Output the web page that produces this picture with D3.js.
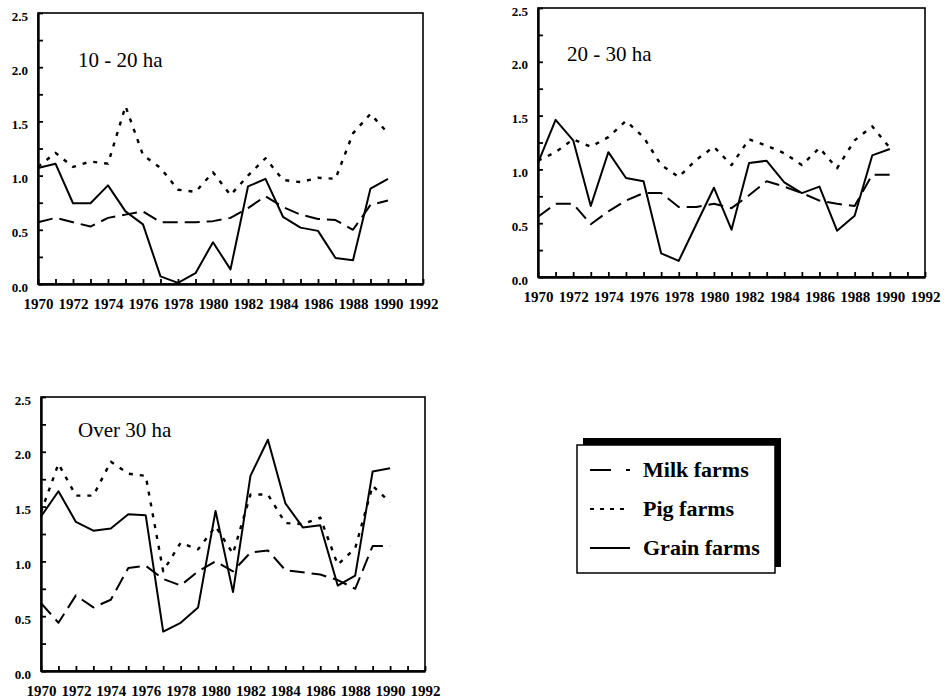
<!DOCTYPE html>
<html>
<head>
<meta charset="utf-8">
<script src="https://cdn.jsdelivr.net/npm/d3@7"></script>
<style>
  html, body { margin: 0; padding: 0; background: #fff; }
  svg { display: block; }
</style>
</head>
<body>
<svg id="chart" width="949" height="699"></svg>
<script>
// ---------------- DATA ----------------
const years = [1970,1971,1972,1973,1974,1975,1976,1977,1978,1979,1980,1981,1982,1983,1984,1985,1986,1987,1988,1989,1990];

// 10 - 20 ha
const milk1020  = [0.57,0.61,0.57,0.53,0.61,0.64,0.67,0.57,0.57,0.57,0.58,0.61,0.70,0.81,0.71,0.64,0.60,0.59,0.50,0.73,0.77];
const pig1020   = [1.08,1.21,1.08,1.13,1.11,1.64,1.19,1.07,0.87,0.85,1.03,0.82,1.00,1.16,0.96,0.94,0.98,0.97,1.39,1.57,1.39];
const grain1020 = [1.07,1.11,0.745,0.745,0.91,0.67,0.55,0.07,0.01,0.10,0.385,0.135,0.90,0.97,0.62,0.52,0.49,0.24,0.22,0.88,0.97];

// 20 - 30 ha
const milk2030  = [0.56,0.68,0.68,0.49,0.61,0.71,0.78,0.78,0.65,0.65,0.68,0.64,0.76,0.89,0.84,0.78,0.71,0.68,0.66,0.95,0.95];
const pig2030   = [1.08,1.16,1.28,1.21,1.30,1.45,1.30,1.04,0.93,1.09,1.21,1.04,1.28,1.22,1.15,1.04,1.20,1.01,1.27,1.40,1.20];
const grain2030 = [1.06,1.46,1.27,0.66,1.16,0.92,0.89,0.22,0.15,0.49,0.83,0.44,1.06,1.08,0.88,0.78,0.84,0.43,0.57,1.13,1.19];

// Over 30 ha
const milkOver30  = [0.62,0.44,0.69,0.58,0.65,0.94,0.96,0.84,0.78,0.91,1.00,0.91,1.08,1.10,0.92,0.90,0.88,0.83,0.75,1.14,1.14];
const pigOver30   = [1.45,1.89,1.60,1.60,1.91,1.80,1.78,0.91,1.17,1.11,1.32,1.07,1.61,1.61,1.35,1.34,1.40,0.97,1.12,1.69,1.54];
const grainOver30 = [1.41,1.64,1.36,1.28,1.30,1.43,1.42,0.36,0.44,0.58,1.46,0.72,1.78,2.11,1.53,1.31,1.33,0.78,0.87,1.82,1.85];

const panelTitles = ["10 - 20 ha", "20 - 30 ha", "Over 30 ha"];
const xTickValues = [1970,1971,1972,1973,1974,1975,1976,1977,1978,1979,1980,1981,1982,1983,1984,1985,1986,1987,1988,1989,1990,1991,1992];
const xTickLabels = ["1970","1972","1974","1976","1978","1980","1982","1984","1986","1988","1990","1992"];
const yTickValues = [0,0.25,0.5,0.75,1,1.25,1.5,1.75,2,2.25,2.5];
const yTickLabels = ["0.0","0.5","1.0","1.5","2.0","2.5"];
const legendLabels = ["Milk farms", "Pig farms", "Grain farms"];

// ---------------- LAYOUT ----------------
const svg = d3.select("#chart");
const SERIF = '"Liberation Serif"';

const panels = [
  { left: 38,  right: 423, top: 13,  bottom: 284, title: panelTitles[0], tx: 78,  ty: 67,
    series: [milk1020, pig1020, grain1020] },
  { left: 538, right: 925, top: 8,   bottom: 277, title: panelTitles[1], tx: 567, ty: 61,
    series: [milk2030, pig2030, grain2030] },
  { left: 41,  right: 425, top: 397, bottom: 671, title: panelTitles[2], tx: 78,  ty: 437,
    series: [milkOver30, pigOver30, grainOver30] }
];

const styles = [
  { dash: "15,7", width: 2 },   // milk: long dash
  { dash: "4,7",  width: 2.4 }, // pig: dotted
  { dash: null,   width: 2 }    // grain: solid
];

panels.forEach(p => {
  const x = d3.scaleLinear().domain([1970, 1992]).range([p.left, p.right]);
  const y = d3.scaleLinear().domain([0, 2.5]).range([p.bottom, p.top]);
  const g = svg.append("g");

  // frame
  g.append("rect")
    .attr("x", p.left).attr("y", p.top)
    .attr("width", p.right - p.left).attr("height", p.bottom - p.top)
    .attr("fill", "none").attr("stroke", "#000").attr("stroke-width", 1.6);

  // x axis
  const xAxis = d3.axisBottom(x)
    .tickValues(xTickValues)
    .tickSizeInner(-5).tickSizeOuter(0).tickPadding(14)
    .tickFormat(d => xTickLabels.includes(String(d)) ? String(d) : "");
  const gx = g.append("g").attr("transform", `translate(0,${p.bottom})`).call(xAxis);
  gx.select(".domain").attr("stroke-width", 2.4);
  gx.selectAll(".tick line").attr("stroke-width", 1.8);
  gx.selectAll("text")
    .style("font-family", SERIF).style("font-size", "15px").style("font-weight", "bold")
    .attr("fill", "#000");

  // y axis
  const yAxis = d3.axisLeft(y)
    .tickValues(yTickValues)
    .tickSizeInner(-5).tickSizeOuter(0).tickPadding(10)
    .tickFormat(d => {
      const s = d.toFixed(1);
      return (Math.abs(d * 2 - Math.round(d * 2)) < 1e-9 && yTickLabels.includes(s)) ? s : "";
    });
  const gy = g.append("g").attr("transform", `translate(${p.left},0)`).call(yAxis);
  gy.select(".domain").attr("stroke-width", 2.4);
  gy.selectAll(".tick line").attr("stroke-width", 1.8);
  gy.selectAll("text")
    .style("font-family", SERIF).style("font-size", "13px").style("font-weight", "bold")
    .attr("fill", "#000").attr("dy", "0.55em");

  // title
  g.append("text")
    .attr("x", p.tx).attr("y", p.ty)
    .style("font-family", SERIF).style("font-size", "21px")
    .attr("fill", "#000")
    .text(p.title);

  // series lines
  p.series.forEach((vals, i) => {
    const line = d3.line()
      .x((d, j) => x(years[j]))
      .y(d => y(d));
    g.append("path")
      .datum(vals)
      .attr("d", line)
      .attr("fill", "none")
      .attr("stroke", "#000")
      .attr("stroke-width", styles[i].width)
      .attr("stroke-dasharray", styles[i].dash)
      .attr("stroke-linejoin", "round");
  });
});

// ---------------- LEGEND ----------------
const lg = svg.append("g");
lg.append("rect").attr("x", 583).attr("y", 438).attr("width", 198).attr("height", 129).attr("fill", "#000");
lg.append("rect").attr("x", 577).attr("y", 445).attr("width", 198).attr("height", 128)
  .attr("fill", "#fff").attr("stroke", "#000").attr("stroke-width", 1.5);

const legendDash = ["21,15,4", "4,6", null];
const legendRowsY = [470, 509, 548];
legendLabels.forEach((lab, i) => {
  lg.append("line")
    .attr("x1", 590).attr("x2", 630)
    .attr("y1", legendRowsY[i]).attr("y2", legendRowsY[i])
    .attr("stroke", "#000").attr("stroke-width", 2)
    .attr("stroke-dasharray", legendDash[i]);
  lg.append("text")
    .attr("x", 643).attr("y", legendRowsY[i] + 7)
    .style("font-family", SERIF).style("font-size", "22px").style("font-weight", "bold")
    .attr("fill", "#000")
    .text(lab);
});
</script>
</body>
</html>
